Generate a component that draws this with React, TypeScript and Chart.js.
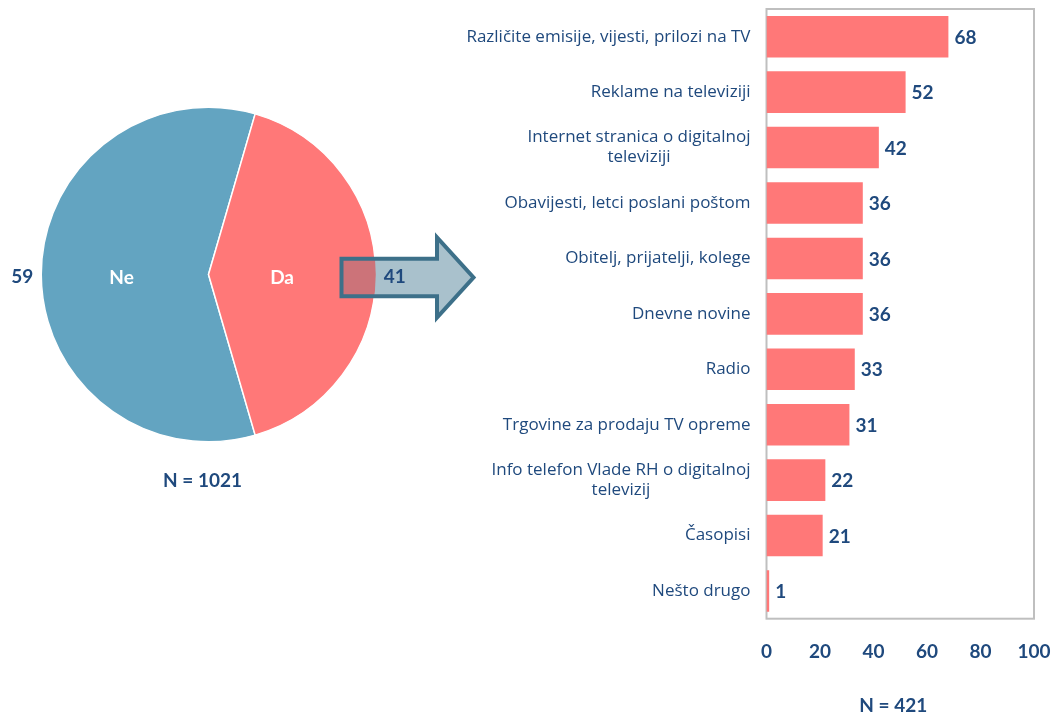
import React, { useEffect, useRef } from "react";
import { Chart, registerables } from "chart.js";

Chart.register(...registerables);

const pieLabels = ["Ne", "Da"];
const pieValues = [59, 41];
const pieNote = "N = 1021";

const barCategories: string[][] = [
  ["Različite emisije, vijesti, prilozi na TV"],
  ["Reklame na televiziji"],
  ["Internet stranica o digitalnoj", "televiziji"],
  ["Obavijesti, letci poslani poštom"],
  ["Obitelj, prijatelji, kolege"],
  ["Dnevne novine"],
  ["Radio"],
  ["Trgovine za prodaju TV opreme"],
  ["Info telefon Vlade RH o digitalnoj", "televizij"],
  ["Časopisi"],
  ["Nešto drugo"],
];
const barValues = [68, 52, 42, 36, 36, 36, 33, 31, 22, 21, 1];
const xTickValues = [0, 20, 40, 60, 80, 100];
const barNote = "N = 421";

const NAVY = "#1F497D";
const BLUE = "#63A4C1";
const RED = "#FF7878";
const FONT = "Lato, 'Open Sans', sans-serif";
const LABEL_FONT = "'Open Sans', sans-serif";

const piePlugin = {
  id: "pieDecor",
  afterDatasetsDraw(chart: any) {
    const ctx = chart.ctx;
    const meta = chart.getDatasetMeta(0);
    const arcs = meta.data;
    if (!arcs.length) return;
    const cx = arcs[0].x;
    const cy = arcs[0].y;
    const r = arcs[0].outerRadius;
    // arrow
    const ay = cy + 3;
    const bodyL = cx + 133;
    const headX = cx + 228.5;
    const tipX = cx + 265;
    const bodyH = 18.8;
    const headH = 40;
    const path = () => {
      ctx.beginPath();
      ctx.moveTo(bodyL, ay - bodyH);
      ctx.lineTo(headX, ay - bodyH);
      ctx.lineTo(headX, ay - headH);
      ctx.lineTo(tipX, ay);
      ctx.lineTo(headX, ay + headH);
      ctx.lineTo(headX, ay + bodyH);
      ctx.lineTo(bodyL, ay + bodyH);
      ctx.closePath();
    };
    ctx.save();
    path();
    ctx.fillStyle = "#A9C1CC";
    ctx.fill();
    ctx.save();
    ctx.beginPath();
    ctx.arc(cx, cy, r, 0, Math.PI * 2);
    ctx.clip();
    path();
    ctx.fillStyle = "#CC7379";
    ctx.fill();
    ctx.restore();
    path();
    ctx.lineWidth = 4;
    ctx.lineJoin = "miter";
    ctx.strokeStyle = "#3D7089";
    ctx.stroke();
    ctx.restore();

    // labels
    const inner = [0.52, 0.44];
    ctx.save();
    ctx.textAlign = "center";
    ctx.textBaseline = "middle";
    ctx.font = `bold 19px ${FONT}`;
    arcs.forEach((arc: any, i: number) => {
      const mid = (arc.startAngle + arc.endAngle) / 2;
      const ri = r * inner[i];
      ctx.fillStyle = "#FFFFFF";
      ctx.fillText(pieLabels[i], cx + Math.cos(mid) * ri, cy + 3 + Math.sin(mid) * ri);
      const ro = r + 19;
      ctx.fillStyle = NAVY;
      ctx.fillText(String(pieValues[i]), cx + Math.cos(mid) * ro, cy + 2 + Math.sin(mid) * ro);
    });
    ctx.fillStyle = NAVY;
    ctx.fillText(pieNote, cx - 6, cy + 206);
    ctx.restore();
  },
};

const barPlugin = {
  id: "barDecor",
  beforeDatasetsDraw(chart: any) {
    const { ctx, chartArea } = chart;
    ctx.save();
    ctx.strokeStyle = "#BFBFBF";
    ctx.lineWidth = 2;
    ctx.strokeRect(chartArea.left, chartArea.top, chartArea.right - chartArea.left, chartArea.bottom - chartArea.top);
    ctx.restore();
  },
  afterDatasetsDraw(chart: any) {
    const { ctx, chartArea } = chart;
    const yScale = chart.scales.y;
    const meta = chart.getDatasetMeta(0);
    ctx.save();
    // value labels
    ctx.font = `bold 19px ${FONT}`;
    ctx.fillStyle = NAVY;
    ctx.textAlign = "left";
    ctx.textBaseline = "middle";
    meta.data.forEach((bar: any, i: number) => {
      ctx.fillText(String(barValues[i]), bar.x + 6, bar.y + 1);
    });
    // category labels
    ctx.font = `17px ${LABEL_FONT}`;
    ctx.textAlign = "center";
    const rightX = chartArea.left - 16;
    const lh = 20;
    barCategories.forEach((lines, i) => {
      const y = yScale.getPixelForValue(i);
      const maxW = Math.max(...lines.map((l) => ctx.measureText(l).width));
      const x = rightX - maxW / 2;
      const y0 = y - ((lines.length - 1) * lh) / 2;
      lines.forEach((l, j) => ctx.fillText(l, x, y0 + j * lh));
    });
    // note
    ctx.font = `bold 19px ${FONT}`;
    ctx.fillText(barNote, (chartArea.left + chartArea.right) / 2 - 7, chartArea.bottom + 87);
    ctx.restore();
  },
};

export default function App() {
  const pieRef = useRef<HTMLCanvasElement>(null);
  const barRef = useRef<HTMLCanvasElement>(null);

  useEffect(() => {
    Chart.defaults.font.family = FONT;
    const pie = new Chart(pieRef.current!, {
      type: "pie",
      data: {
        labels: pieLabels,
        datasets: [
          {
            data: pieValues,
            backgroundColor: [BLUE, RED],
            borderColor: "#FFFFFF",
            borderWidth: 1.5,
          },
        ],
      },
      options: {
        responsive: false,
        animation: false,
        rotation: 163.8,
        layout: { padding: { left: 40.5, right: 103.5, top: 106.5, bottom: 57.5 } },
        plugins: { legend: { display: false }, tooltip: { enabled: false } },
      },
      plugins: [piePlugin],
    });

    const bar = new Chart(barRef.current!, {
      type: "bar",
      data: {
        labels: barCategories.map((c) => c.join(" ")),
        datasets: [
          {
            data: barValues,
            backgroundColor: RED,
            borderWidth: 0,
            barPercentage: 0.75,
            categoryPercentage: 1,
          },
        ],
      },
      options: {
        indexAxis: "y",
        responsive: false,
        animation: false,
        layout: { padding: { top: 9, right: 0, left: 0, bottom: 0 } },
        plugins: { legend: { display: false }, tooltip: { enabled: false } },
        scales: {
          y: {
            grid: { display: false, drawTicks: false },
            border: { display: false },
            ticks: { display: false },
            afterFit: (s: any) => {
              s.width = 326.5;
            },
          },
          x: {
            min: 0,
            max: 100,
            grid: { display: false, drawTicks: false },
            border: { display: false },
            afterBuildTicks: (s: any) => {
              s.ticks = xTickValues.map((v) => ({ value: v }));
            },
            ticks: {
              color: NAVY,
              font: { family: FONT, size: 19, weight: "bold" },
              padding: 22,
              maxRotation: 0,
            },
            afterFit: (s: any) => {
              s.height = 97.3;
              s.paddingLeft = 0;
              s.paddingRight = 18;
            },
          },
        },
      },
      plugins: [barPlugin],
    });

    return () => {
      pie.destroy();
      bar.destroy();
    };
  }, []);

  return (
    <div style={{ position: "absolute", left: 0, top: 0, width: 1052, height: 716, background: "#fff" }}>
      <canvas
        ref={pieRef}
        width={480}
        height={500}
        style={{ position: "absolute", left: 0, top: 0, width: 480, height: 500 }}
      />
      <canvas
        ref={barRef}
        width={612}
        height={716}
        style={{ position: "absolute", left: 440, top: 0, width: 612, height: 716 }}
      />
    </div>
  );
}
